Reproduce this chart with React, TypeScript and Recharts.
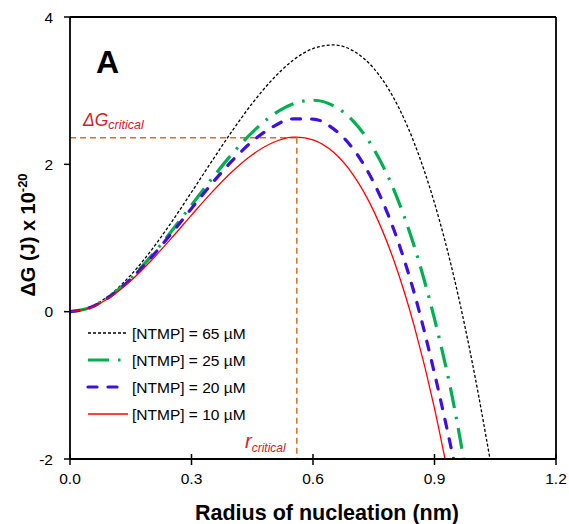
import React from 'react';
import { LineChart, Line, XAxis, YAxis, ReferenceLine, Legend, Customized } from 'recharts';

// Tick values
const xTicks = [0, 0.3, 0.6, 0.9, 1.2];
const yTicks = [-2, 0, 2, 4];

// [NTMP] = 65 µM
const r65 = [0, 0.05, 0.1, 0.15, 0.2, 0.25, 0.3, 0.35, 0.4, 0.45, 0.5, 0.55, 0.6, 0.65, 0.7, 0.75, 0.8, 0.85, 0.9, 0.95, 1.0, 1.037];
const g65 = [0, 0.062, 0.234, 0.496, 0.828, 1.21, 1.621, 2.041, 2.45, 2.827, 3.153, 3.409, 3.571, 3.621, 3.538, 3.302, 2.893, 2.29, 1.474, 0.424, -0.88, -2];

// [NTMP] = 25 µM
const r25 = [0, 0.05, 0.1, 0.15, 0.2, 0.25, 0.3, 0.35, 0.4, 0.45, 0.5, 0.55, 0.6, 0.65, 0.7, 0.75, 0.8, 0.85, 0.9, 0.95, 0.972];
const g25 = [0, 0.057, 0.215, 0.453, 0.751, 1.088, 1.446, 1.803, 2.139, 2.434, 2.668, 2.82, 2.87, 2.798, 2.584, 2.208, 1.649, 0.887, -0.099, -1.328, -2];

// [NTMP] = 20 µM
const r20 = [0, 0.05, 0.1, 0.15, 0.2, 0.25, 0.3, 0.35, 0.4, 0.45, 0.5, 0.55, 0.6, 0.65, 0.7, 0.75, 0.8, 0.85, 0.9, 0.947];
const g20 = [0, 0.056, 0.211, 0.444, 0.733, 1.059, 1.401, 1.737, 2.047, 2.311, 2.508, 2.616, 2.615, 2.485, 2.204, 1.752, 1.108, 0.252, -0.838, -2];

// [NTMP] = 10 µM
const r10 = [0, 0.05, 0.1, 0.15, 0.2, 0.25, 0.3, 0.35, 0.4, 0.45, 0.5, 0.55, 0.56, 0.6, 0.65, 0.7, 0.75, 0.8, 0.85, 0.9, 0.926];
const g10 = [0, 0.053, 0.2, 0.419, 0.691, 0.995, 1.311, 1.619, 1.899, 2.13, 2.293, 2.368, 2.37, 2.331, 2.166, 1.851, 1.365, 0.69, -0.197, -1.312, -2];

// critical point annotation
const rCritical = 0.56;
const gCritical = 2.36;

const toRows = (rs: number[], gs: number[]) => rs.map((r, i) => ({ r, g: gs[i] }));

const FONT = '"Liberation Sans", Arial, sans-serif';

const series = [
  { name: '[NTMP] = 65 µM', data: toRows(r65, g65), stroke: '#000000', width: 1.3, dash: '3 2', cap: 'butt' as const },
  { name: '[NTMP] = 25 µM', data: toRows(r25, g25), stroke: '#00B050', width: 3.2, dash: '21 9 2.5 9', cap: 'butt' as const },
  { name: '[NTMP] = 20 µM', data: toRows(r20, g20), stroke: '#3D10E0', width: 3.2, dash: '9 11', cap: 'round' as const },
  { name: '[NTMP] = 10 µM', data: toRows(r10, g10), stroke: '#FF0000', width: 1.3, dash: undefined, cap: 'butt' as const },
];

const XTick = (props: any) => {
  const { x, y, payload } = props;
  const axisY = y - 8;
  return (
    <g>
      <line x1={x} x2={x} y1={axisY - 5} y2={axisY + 6} stroke="#000" strokeWidth={1.5} />
      <text x={x} y={axisY + 25} textAnchor="middle" fontSize={15.5} fontFamily={FONT} fill="#000">
        {Number(payload.value).toFixed(1)}
      </text>
    </g>
  );
};

const LegendContent = () => (
  <svg width={230} height={112} style={{ display: 'block', overflow: 'visible' }}>
    {series.map((s, i) => {
      const y = 15 + 27 * i;
      return (
        <g key={s.name}>
          <line x1={8} x2={48} y1={y} y2={y} stroke={s.stroke} strokeWidth={s.width} strokeDasharray={s.dash} strokeLinecap={s.cap} />
          <text x={52} y={y} dy="0.36em" fontSize={15.5} fontFamily={FONT} fill="#000">{s.name}</text>
        </g>
      );
    })}
  </svg>
);

const Annotations = () => (
  <g fontFamily={FONT}>
    <text x={96} y={73} fontSize={32} fontWeight="bold" fill="#000">A</text>
    <text x={83} y={126} fontSize={17.5} fontStyle="italic" fill="#D0202A">
      ΔG<tspan fontSize={12.5} dy={3}>critical</tspan>
    </text>
    <text x={245} y={448} fontSize={20} fontStyle="italic" fill="#D0202A">
      r<tspan fontSize={12} dy={4}>critical</tspan>
    </text>
    <text x={327} y={520} textAnchor="middle" fontSize={21.5} fontWeight="bold" fill="#000">
      Radius of nucleation (nm)
    </text>
    <text transform="translate(35,235) rotate(-90)" textAnchor="middle" fontSize={20} fontWeight="bold" fill="#000">
      ΔG (J) x 10<tspan fontSize={13} dy={-8}>-20</tspan>
    </text>
  </g>
);

export default function App() {
  return (
    <div style={{ position: 'absolute', left: 0, top: 0 }}>
      <LineChart width={569} height={524} margin={{ top: 17, right: 13, bottom: 15, left: 0 }}>
        <XAxis
          dataKey="r"
          type="number"
          domain={[0, 1.2]}
          ticks={xTicks}
          allowDataOverflow
          axisLine={{ stroke: '#000', strokeWidth: 1.8 }}
          tickLine={false}
          tickSize={6}
          tickMargin={2}
          tick={<XTick />}
          height={50}
          interval={0}
        />
        <YAxis
          type="number"
          domain={[-2, 4]}
          ticks={yTicks}
          allowDataOverflow
          width={70}
          axisLine={{ stroke: '#000', strokeWidth: 1.8 }}
          tickLine={{ stroke: '#000', strokeWidth: 1.5 }}
          tickSize={6}
          tickMargin={11}
          tick={{ fontSize: 15.5, fill: '#000', fontFamily: FONT }}
          interval={0}
        />
        <ReferenceLine y={4} stroke="#000" strokeWidth={1.8} />
        <ReferenceLine x={1.2} stroke="#000" strokeWidth={1.8} />
        <ReferenceLine
          segment={[{ x: 0, y: gCritical }, { x: rCritical, y: gCritical }]}
          stroke="#D2702E"
          strokeWidth={1.5}
          strokeDasharray="6 4"
        />
        <ReferenceLine
          segment={[{ x: rCritical, y: gCritical }, { x: rCritical, y: -2 }]}
          stroke="#D2702E"
          strokeWidth={1.5}
          strokeDasharray="6 4"
        />
        {series.map((s) => (
          <Line
            key={s.name}
            data={s.data}
            dataKey="g"
            name={s.name}
            type="monotone"
            stroke={s.stroke}
            strokeWidth={s.width}
            strokeDasharray={s.dash}
            strokeLinecap={s.cap}
            dot={false}
            activeDot={false}
            isAnimationActive={false}
          />
        ))}
        <Legend
          layout="horizontal"
          verticalAlign="middle"
          align="center"
          content={<LegendContent />}
          wrapperStyle={{ position: 'absolute', left: 80, top: 318, width: 230, height: 112 }}
        />
        <Customized component={<Annotations />} />
      </LineChart>
    </div>
  );
}
